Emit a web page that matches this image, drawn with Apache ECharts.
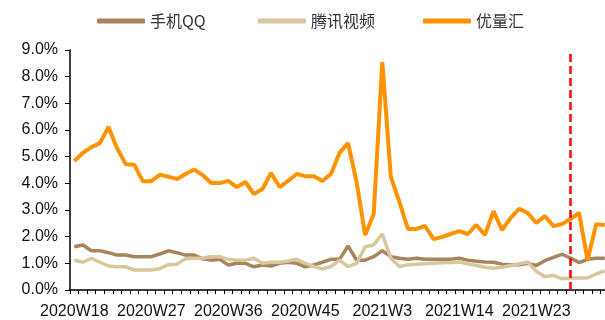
<!DOCTYPE html>
<html>
<head>
<meta charset="utf-8">
<script src="https://cdn.jsdelivr.net/npm/echarts@6.0.0/dist/echarts.min.js"></script>
<style>
  html, body { margin: 0; padding: 0; background: #fff; }
  #chartLine { width: 605px; height: 320px; }
</style>
</head>
<body>
<div id="chartLine"></div>
<script>
// tick labels shown every 9 weeks on the category axis
var tickLabels = ['2020W18', '2020W27', '2020W36', '2020W45', '2021W3', '2021W14', '2021W23'];
var labelStep = 9;

// weekly share, %
var qqData = [1.62, 1.69, 1.47, 1.47, 1.40, 1.31, 1.31, 1.25, 1.25, 1.25, 1.35, 1.47, 1.40, 1.31, 1.31,
    1.17, 1.12, 1.15, 0.94, 1.00, 1.00, 0.87, 0.94, 0.90, 1.00, 1.04, 1.00, 0.87, 0.94, 1.04,
    1.15, 1.15, 1.65, 1.12, 1.12, 1.25, 1.47, 1.25, 1.19, 1.15, 1.19, 1.15, 1.15, 1.15, 1.15,
    1.19, 1.12, 1.08, 1.05, 1.04, 0.97, 0.95, 0.95, 1.00, 0.92, 1.10, 1.22, 1.34, 1.20, 1.03,
    1.15, 1.19, 1.19];
var videoData = [1.12, 1.04, 1.19, 1.04, 0.90, 0.87, 0.87, 0.75, 0.75, 0.75, 0.80, 0.95, 0.97, 1.17, 1.19,
    1.20, 1.25, 1.25, 1.15, 1.12, 1.12, 1.19, 1.00, 1.04, 1.04, 1.09, 1.15, 1.00, 0.88, 0.79,
    0.88, 1.12, 0.88, 1.00, 1.62, 1.69, 2.10, 1.19, 0.88, 0.95, 0.97, 0.98, 1.00, 1.02, 1.03,
    1.05, 0.98, 0.92, 0.85, 0.82, 0.85, 0.92, 0.98, 1.05, 0.70, 0.50, 0.55, 0.42, 0.45, 0.45,
    0.45, 0.60, 0.72];
var ylhData = [4.84, 5.14, 5.36, 5.51, 6.11, 5.32, 4.72, 4.70, 4.08, 4.08, 4.32, 4.25, 4.16, 4.35, 4.52,
    4.31, 4.01, 4.01, 4.09, 3.86, 4.05, 3.60, 3.79, 4.39, 3.86, 4.09, 4.35, 4.27, 4.27, 4.09,
    4.35, 5.14, 5.51, 4.05, 2.06, 2.85, 8.55, 4.24, 3.30, 2.29, 2.29, 2.40, 1.91, 1.99, 2.10,
    2.21, 2.10, 2.44, 2.06, 2.96, 2.25, 2.70, 3.04, 2.89, 2.51, 2.77, 2.40, 2.47, 2.66, 2.89,
    1.12, 2.47, 2.44];
var cutWeek = 58;   // red dashed marker

var weeks = ylhData.map(function (v, i) { return 'w' + i; });

var myChart = echarts.init(document.getElementById('chartLine'));
var axisFont = 'Liberation Sans, Arial, sans-serif';

function legendAt(name, left) {
    return {
        data: [name],
        left: left,
        top: 13,
        padding: 0,
        icon: 'roundRect',
        itemWidth: 48,
        itemHeight: 5,
        itemGap: 6,
        textStyle: {
            fontSize: 16,
            color: '#333',
            fontFamily: 'Noto Sans CJK SC'
        }
    };
}

var option = {
    animation: false,
    backgroundColor: '#fff',
    legend: [
        legendAt('手机QQ', 97),
        legendAt('腾讯视频', 258),
        legendAt('优量汇', 423)
    ],
    grid: {
        left: 70,
        top: 50,
        width: 539,
        height: 240,
        outerBoundsMode: 'none'
    },
    xAxis: {
        type: 'category',
        data: weeks,
        axisLine: { lineStyle: { color: '#000', width: 1.5 } },
        axisTick: { show: true, interval: 0, length: 4, lineStyle: { color: '#000' } },
        axisLabel: {
            interval: labelStep - 1,
            margin: 14,
            fontSize: 16,
            color: '#111',
            fontFamily: axisFont,
            formatter: function (v, i) {
                return tickLabels[i / labelStep] || '';
            }
        },
        splitLine: { show: false }
    },
    yAxis: {
        type: 'value',
        min: 0,
        max: 9,
        interval: 1,
        axisLine: { show: true, lineStyle: { color: '#000', width: 1.5 } },
        axisTick: { show: true, length: 5, lineStyle: { color: '#000' } },
        axisLabel: {
            margin: 12,
            fontSize: 16,
            color: '#111',
            fontFamily: axisFont,
            formatter: function (v) { return v.toFixed(1) + '%'; }
        },
        splitLine: { show: false }
    },
    series: [
        {
            name: '手机QQ',
            type: 'line',
            symbol: 'none',
            itemStyle: { color: '#A8845C' },
            lineStyle: { color: '#A8845C', width: 3.5 },
            data: qqData
        },
        {
            name: '腾讯视频',
            type: 'line',
            symbol: 'none',
            itemStyle: { color: '#D8C69C' },
            lineStyle: { color: '#D8C69C', width: 3.5 },
            data: videoData
        },
        {
            name: '优量汇',
            type: 'line',
            symbol: 'none',
            itemStyle: { color: '#FF9200' },
            lineStyle: { color: '#FF9200', width: 4 },
            data: ylhData,
            markLine: {
                silent: true,
                symbol: 'none',
                label: { show: false },
                lineStyle: { color: '#FF0000', width: 2.5, type: [8, 4] },
                data: [[{ coord: [cutWeek, 8.85] }, { coord: [cutWeek, 0] }]]
            }
        }
    ]
};
myChart.setOption(option);
</script>
</body>
</html>
